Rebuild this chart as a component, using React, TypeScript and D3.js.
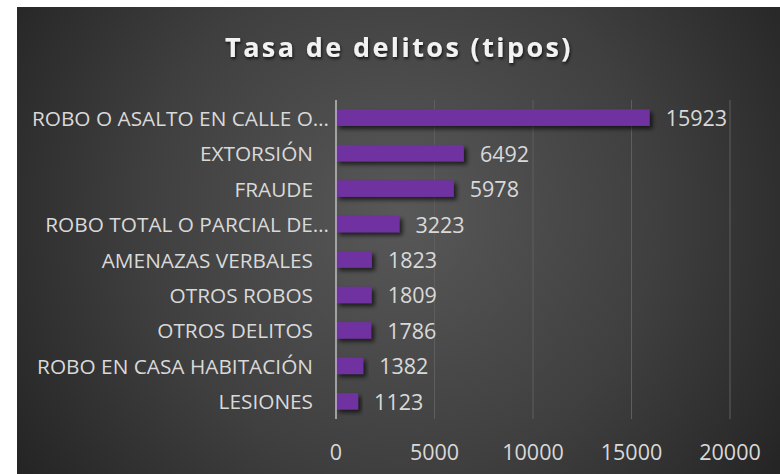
import React from "react";
import * as d3 from "d3";

const categories = [
  "ROBO O ASALTO EN CALLE O…",
  "EXTORSIÓN",
  "FRAUDE",
  "ROBO TOTAL O PARCIAL DE…",
  "AMENAZAS VERBALES",
  "OTROS ROBOS",
  "OTROS DELITOS",
  "ROBO EN CASA HABITACIÓN",
  "LESIONES",
];
const values = [15923, 6492, 5978, 3223, 1823, 1809, 1786, 1382, 1123];
const ticks = [0, 5000, 10000, 15000, 20000];
const title = "Tasa de delitos (tipos)";

const W = 780;
const H = 474;
const FONT = "'Open Sans', 'Noto Sans', sans-serif";

export default function App() {
  const x = d3.scaleLinear().domain([0, 20000]).range([336, 730]);
  const y = d3
    .scaleBand<string>()
    .domain(categories)
    .range([100, 419])
    .paddingInner(0.534)
    .paddingOuter(0.267);
  const bw = y.bandwidth();

  return (
    <svg
      width={W}
      height={H}
      style={{ position: "absolute", left: 0, top: 0, display: "block" }}
    >
      <defs>
        <radialGradient id="bg" gradientUnits="userSpaceOnUse" cx={400} cy={215} r={470}>
          <stop offset="0" stopColor="#585858" />
          <stop offset="0.55" stopColor="#3f3f3f" />
          <stop offset="1" stopColor="#232323" />
        </radialGradient>
        <filter id="barShadow" x="-10%" y="-50%" width="130%" height="220%">
          <feDropShadow dx="3" dy="3" stdDeviation="2" floodColor="#000" floodOpacity="0.65" />
        </filter>
        <filter id="titleShadow" x="-10%" y="-50%" width="120%" height="200%">
          <feDropShadow dx="1" dy="2" stdDeviation="1.5" floodColor="#000" floodOpacity="0.7" />
        </filter>
      </defs>
      <rect x={0} y={0} width={W} height={H} fill="#ffffff" />
      <rect x={17} y={7} width={W - 17} height={H - 7} fill="url(#bg)" />

      <text
        x={399}
        y={57}
        textAnchor="middle"
        fill="#f2f2f2"
        fontFamily={FONT}
        fontWeight="bold"
        fontSize={27}
        letterSpacing={2.4}
        filter="url(#titleShadow)"
      >
        {title}
      </text>

      {ticks.slice(1).map((t) => (
        <line
          key={"g" + t}
          x1={x(t)}
          x2={x(t)}
          y1={100}
          y2={419}
          stroke="#5e5e5e"
          strokeWidth={1}
        />
      ))}

      {categories.map((c, i) => (
        <rect
          key={"b" + c}
          x={x(0)}
          y={y(c)}
          width={x(values[i]) - x(0)}
          height={bw}
          fill="#7030a0"
          filter="url(#barShadow)"
        />
      ))}

      <line x1={x(0)} x2={x(0)} y1={100} y2={419} stroke="#bfbfbf" strokeWidth={1.5} />

      {categories.map((c, i) => (
        <text
          key={"v" + c}
          x={x(values[i]) + 16}
          y={(y(c) as number) + bw / 2}
          dominantBaseline="central"
          fill="#d9d9d9"
          fontFamily={FONT}
          fontSize={21.5}
        >
          {values[i]}
        </text>
      ))}

      {categories.map((c) => (
        <text
          key={"c" + c}
          x={c.endsWith("…") ? 329 : 313}
          y={(y(c) as number) + bw / 2}
          dominantBaseline="central"
          textAnchor="end"
          fill="#d9d9d9"
          fontFamily={FONT}
          fontSize={20.8}
        >
          {c}
        </text>
      ))}

      {ticks.map((t) => (
        <text
          key={"t" + t}
          x={x(t)}
          y={451}
          dominantBaseline="central"
          textAnchor="middle"
          fill="#d9d9d9"
          fontFamily={FONT}
          fontSize={21.5}
        >
          {t}
        </text>
      ))}
    </svg>
  );
}
